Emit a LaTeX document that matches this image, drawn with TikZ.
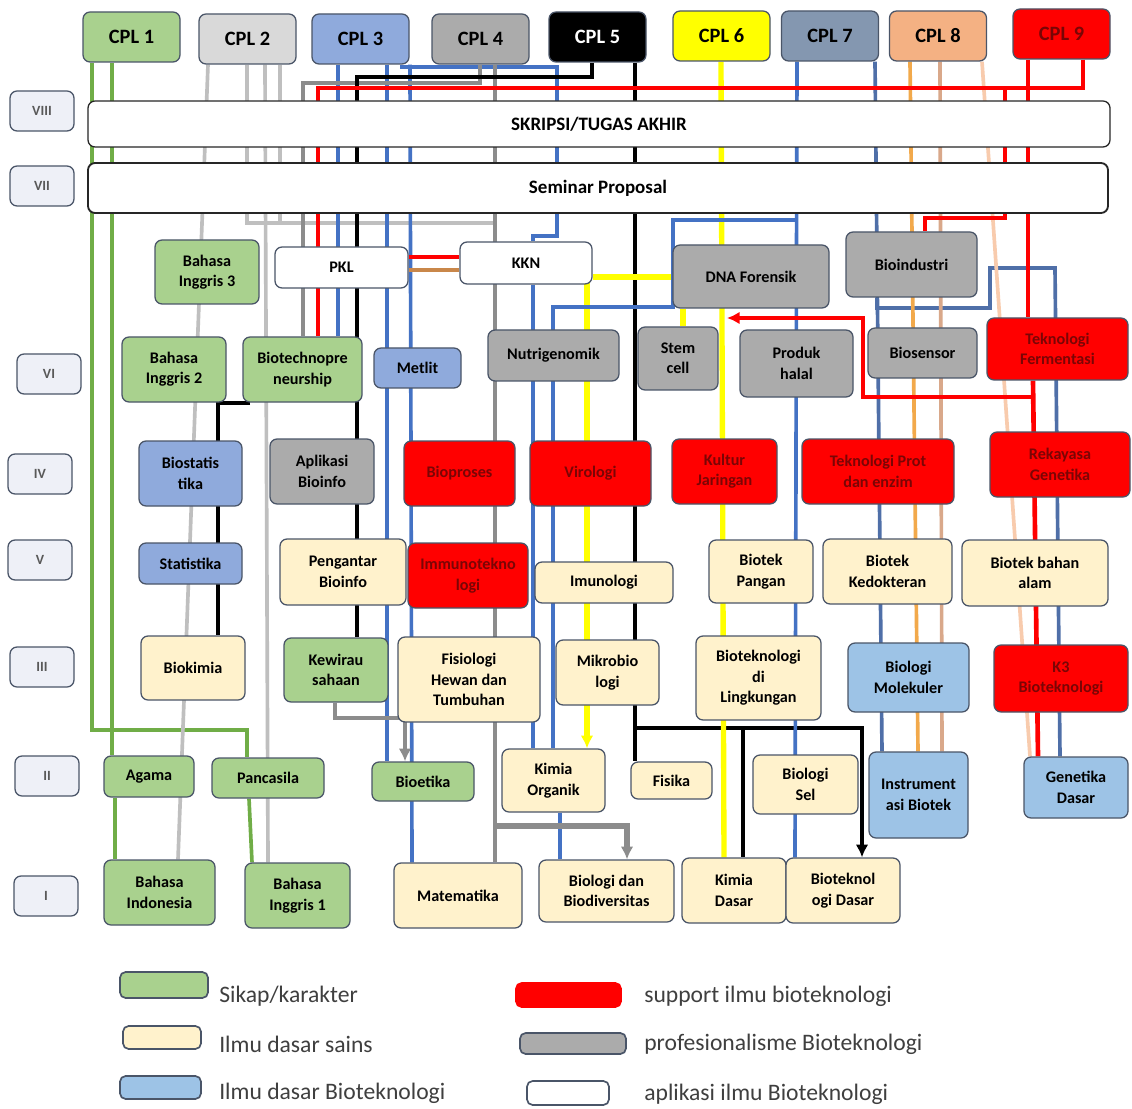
\documentclass[tikz,border=0pt]{standalone}
\usepackage{fontspec}
\setmainfont{Carlito}
\usetikzlibrary{arrows.meta, backgrounds}

\definecolor{sikapfill}{HTML}{A9D18E}
\definecolor{sainsfill}{HTML}{FFF2CC}
\definecolor{dasarfill}{HTML}{9DC3E6}
\definecolor{dasarfillb}{HTML}{8FAADC}
\definecolor{supportfill}{HTML}{FF0000}
\definecolor{supporttext}{HTML}{7A0505}
\definecolor{profesifill}{HTML}{ABABAB}
\definecolor{bordc}{HTML}{4A5568}
\definecolor{semfill}{HTML}{EEF0F7}
\definecolor{cpltwo}{HTML}{D9D9D9}
\definecolor{cplsix}{HTML}{FFFF00}
\definecolor{cplseven}{HTML}{8497B0}
\definecolor{cpleight}{HTML}{F4B183}
\definecolor{legtxt}{HTML}{3F3F3F}
\definecolor{lgreen}{HTML}{70AD47}
\definecolor{lgray}{HTML}{BFBFBF}
\definecolor{dgray}{HTML}{8C8C8C}
\definecolor{lblue}{HTML}{4472C4}
\definecolor{lslate}{HTML}{4F6FA8}
\definecolor{lorange}{HTML}{F2A94B}
\definecolor{lpeach}{HTML}{D9A88A}
\definecolor{llpeach}{HTML}{F8CBAD}
\definecolor{lbrown}{HTML}{C9874A}

\begin{document}
\begin{tikzpicture}[x=0.025cm, y=-0.025cm, >={Latex[length=9pt,width=9pt]},
  box/.style={draw=bordc, line width=0.9pt, rounded corners=5pt, align=center, inner sep=1pt,
    font=\bfseries\fontsize{11.5}{14.5}\selectfont},
  sz/.style 2 args={minimum width=#1*0.025cm, minimum height=#2*0.025cm},
  sikap/.style={box, fill=sikapfill},
  sains/.style={box, fill=sainsfill},
  dasar/.style={box, fill=dasarfill},
  dasarb/.style={box, fill=dasarfillb},
  support/.style={box, fill=supportfill, text=supporttext},
  profesi/.style={box, fill=profesifill},
  aplikasi/.style={box, fill=white},
  cplbox/.style={box, sz={97}{50}, font=\bfseries\fontsize{14.5}{17}\selectfont},
  bar/.style={box, fill=white, draw=black!85, font=\bfseries\fontsize{13.5}{16}\selectfont},
  sem/.style={box, fill=semfill, sz={64}{40}, text=black!65, font=\bfseries\fontsize{10}{12}\selectfont},
  legbox/.style={draw=bordc, line width=1.2pt, rounded corners=4pt},
  legtext/.style={anchor=west, inner sep=0pt, text=legtxt, font=\fontsize{16.8}{20}\selectfont},
  ln/.style={line width=2.6pt},
  lnk/.style={line width=3pt, black},
  lny/.style={line width=3.8pt, cplsix},
  lnr/.style={line width=3.3pt, supportfill}]
\useasboundingbox (0,0) rectangle (1132,1109);

\foreach \i/\x/\y/\fc/\tc in {1/131.5/37/sikapfill/black, 2/247.5/39/cpltwo/black,
    3/360.5/39/dasarfillb/black, 4/480.5/39/profesifill/black, 5/597.5/37/black/white,
    6/721.5/36/cplsix/black, 7/830/36/cplseven/black, 8/938/36/cpleight/black,
    9/1061.5/34/supportfill/supporttext}
  \node[cplbox, fill=\fc, text=\tc] (cpl\i) at (\x,\y) {CPL \i};

\foreach \s/\x/\y in {VIII/42/111, VII/42/186, VI/49/374, IV/40/474, V/40/560,
    III/42/667, II/47/776, I/46/896}
  \node[sem] (sem\s) at (\x,\y) {\s};

\node[bar, sz={1022}{46}] (skripsi) at (599,124) {SKRIPSI/TUGAS AKHIR};
\node[bar, sz={1020}{50}, line width=1.3pt] (sempro) at (598,188) {Seminar Proposal};

\node[sikap, sz={104}{64}] (bing3) at (207,272) {Bahasa\\Inggris 3};
\node[aplikasi, sz={133}{41}] (pkl) at (341.5,267.5) {PKL};
\node[aplikasi, sz={132}{42}] (kkn) at (526,263) {KKN};
\node[profesi, sz={156}{63}] (dna) at (751,276.5) {DNA Forensik};
\node[profesi, sz={131}{65}] (bioind) at (911.5,264.5) {Bioindustri};

\node[sikap, sz={104}{65}] (bing2) at (174,369.5) {Bahasa\\Inggris 2};
\node[sikap, sz={119}{65}] (btp) at (302.5,369.5) {Biotechnopre\\neurship};
\node[dasarb, sz={87}{40}] (metlit) at (417.5,368) {Metlit};
\node[profesi, sz={131}{51}] (nutri) at (553.5,355.5) {Nutrigenomik};
\node[profesi, sz={80}{63}] (stem) at (678,358.5) {Stem\\cell};
\node[profesi, sz={113}{67}] (halal) at (796.5,363.5) {Produk\\halal};
\node[profesi, sz={109}{50}] (biosensor) at (922.5,353) {Biosensor};
\node[support, sz={141}{62}] (fermen) at (1057.5,349) {Teknologi\\Fermentasi};

\node[dasarb, sz={103}{65}] (biostat) at (190.5,473.5) {Biostatis\\tika};
\node[profesi, sz={104}{65}] (apbio) at (322,471.5) {Aplikasi\\Bioinfo};
\node[support, sz={111}{65}] (bioproses) at (459.5,473.5) {Bioproses};
\node[support, sz={121}{65}] (virologi) at (590.5,473.5) {Virologi};
\node[support, sz={105}{65}] (kultur) at (724.5,471.5) {Kultur\\Jaringan};
\node[support, sz={152}{65}] (tekprot) at (878,471.5) {Teknologi Prot\\dan enzim};
\node[support, sz={140}{65}] (rekgen) at (1060,464.5) {Rekayasa\\Genetika};

\node[dasarb, sz={103}{41}] (stat) at (190.5,563.5) {Statistika};
\node[sains, sz={126}{66}] (pbio) at (343,572) {Pengantar\\Bioinfo};
\node[support, sz={120}{65}] (immtek) at (468,575.5) {Immunotekno\\logi};
\node[sains, sz={138}{41}] (imun) at (604,582.5) {Imunologi};
\node[sains, sz={104}{63}] (bpangan) at (761,571.5) {Biotek\\Pangan};
\node[sains, sz={129}{65}] (bkedok) at (887.5,571.5) {Biotek\\Kedokteran};
\node[sains, sz={146}{66}] (bbahan) at (1035,573) {Biotek bahan\\alam};

\node[sains, sz={104}{64}] (biokimia) at (193,668) {Biokimia};
\node[sikap, sz={104}{64}] (kewira) at (336,670) {Kewirau\\sahaan};
\node[sains, sz={142}{85}] (fisiol) at (469,679.5) {Fisiologi\\Hewan dan\\Tumbuhan};
\node[sains, sz={103}{65}] (mikro) at (607.5,672.5) {Mikrobio\\logi};
\node[sains, sz={125}{84}] (blingk) at (758.5,678) {Bioteknologi\\di\\Lingkungan};
\node[dasar, sz={121}{69}] (bmolek) at (908.5,677.5) {Biologi\\Molekuler};
\node[support, sz={134}{67}] (k3) at (1061,678.5) {K3\\Bioteknologi};

\node[sikap, sz={90}{41}] (agama) at (149,776.5) {Agama};
\node[sikap, sz={112}{40}] (pancasila) at (268,778) {Pancasila};
\node[sikap, sz={102}{39}] (bioetika) at (423,781.5) {Bioetika};
\node[sains, sz={103}{63}] (kimorg) at (553.5,780.5) {Kimia\\Organik};
\node[sains, sz={81}{37}] (fisika) at (671.5,780.5) {Fisika};
\node[sains, sz={105}{59}] (bsel) at (805.5,784.5) {Biologi\\Sel};
\node[dasar, sz={99}{86}] (instr) at (918.5,795) {Instrument\\asi Biotek};
\node[dasar, sz={104}{61}] (gendas) at (1076,787.5) {Genetika\\Dasar};

\node[sikap, sz={111}{65}] (bindo) at (159.5,892.5) {Bahasa\\Indonesia};
\node[sikap, sz={105}{65}] (bing1) at (297.5,895.5) {Bahasa\\Inggris 1};
\node[sains, sz={128}{65}] (matem) at (458,895.5) {Matematika};
\node[sains, sz={135}{62}] (bbiodiv) at (606.5,891) {Biologi dan\\Biodiversitas};
\node[sains, sz={104}{65}] (kimdas) at (734,890.5) {Kimia\\Dasar};
\node[sains, sz={114}{65}] (btdas) at (843,890.5) {Bioteknol\\ogi Dasar};

% legenda
\node[legbox, fill=sikapfill, sz={88}{26}] (lgsikap) at (164,985) {};
\node[legtext] (lgsikaptxt) at (219,996) {Sikap/karakter};
\node[legbox, fill=sainsfill, sz={78}{23}] (lgsains) at (162,1037.5) {};
\node[legtext] (lgsainstxt) at (219,1044) {Ilmu dasar sains};
\node[legbox, fill=dasarfill, sz={81}{23}] (lgdasar) at (160.5,1087.5) {};
\node[legtext] (lgdasartxt) at (219,1093) {Ilmu dasar Bioteknologi};
\node[legbox, fill=supportfill, draw=supportfill, sz={105}{24}] (lgsupport) at (568.5,995) {};
\node[legtext] (lgsupporttxt) at (644,996) {support ilmu bioteknologi};
\node[legbox, fill=profesifill, sz={106}{21}] (lgprofesi) at (573,1043.5) {};
\node[legtext] (lgprofesitxt) at (644,1044) {profesionalisme Bioteknologi};
\node[legbox, fill=white, sz={82}{24}] (lgaplikasi) at (568,1093) {};
\node[legtext] (lgaplikasitxt) at (644,1094) {aplikasi ilmu Bioteknologi};

\begin{pgfonlayer}{background}
  \fill[white] (0,0) rectangle (1132,1109);
  % CPL 1
  \draw[ln, lgreen] (cpl1.south -| 92,0) -- (92,730) -| (pancasila.north -| 247,0);
  \draw[ln, lgreen] (cpl1.south -| 112,0) -- (agama.north -| 112,0);
  \draw[ln, lgreen] (agama.south -| 115,0) -- (bindo.north -| 115,0);
  \draw[ln, lgreen] (pancasila.south -| 249,0) -- (bing1.north -| 252,0);
  % CPL 2
  \draw[ln, lgray] (cpl2.south -| 208,0) -- (bindo.north -| 178,0);
  \draw[ln, lgray] (cpl2.south -| 265,0) -- (bing1.north -| 268,0);
  \draw[ln, lgray] (cpl2.south -| 247,0) |- (495,223);
  \draw[ln, lgray] (cpl2.south -| 280,0) -- (280,223);
  % CPL 3
  \draw[ln, lblue] (cpl3.south -| 338,0) -- (btp.north -| 338,0);
  \draw[ln, lblue] (cpl3.south -| 387,0) -- (bioetika.north -| 387,0);
  \draw[ln, lblue] (cpl3.south -| 410,0) -- (matem.north -| 412,0);
  \draw[ln, lblue] (cpl3.south -| 402,0) |- (557,67) -- (557,236) -| (kkn.north -| 533,0);
  \draw[ln, lblue] (kkn.south -| 533,0) -- (kimorg.north -| 533,0);
  \draw[ln, lblue] (kimorg.south -| 560,0) -- (bbiodiv.north -| 560,0);
  % CPL 4
  \draw[ln, dgray] (cpl4.south -| 480,0) |- (303,83) -- (btp.north -| 303,0);
  \draw[ln, dgray] (cpl4.south -| 495,0) -- (matem.north -| 495,0);
  \draw[ln, dgray, line width=3.6pt, ->] (495,826) -| (bbiodiv.north -| 627,0);
  \draw[ln, dgray, ->] (kewira.south -| 335,0) |- (405,718) -- (bioetika.north -| 405,0);
  % CPL 5
  \draw[lnk] (cpl5.south -| 592,0) |- (357,77) -- (kewira.north -| 357,0);
  \draw[lnk] (btp.south -| 250,0) -- (btp.south -| 218,0) -- (biokimia.north -| 218,0);
  \draw[lnk] (cpl5.south -| 635,0) -- (fisika.north -| 635,0);
  \draw[lnk, ->] (635,728) -| (btdas.north -| 862,0);
  \draw[lnk] (743,728) -- (kimdas.north -| 743,0);
  % CPL 6
  \draw[lny] (cpl6.south -| 721,0) -- (kimdas.north -| 724,0);
  \draw[lny] (kkn.east |- 0,277) -- (dna.west |- 0,277);
  \draw[lny, ->] (587,277) -- (kimorg.north -| 587,0);
  \draw[lny] (dna.south -| 683,0) -- (stem.north -| 683,0);
  % CPL 7
  \draw[ln, lblue] (cpl7.south -| 797,0) -- (btdas.north -| 795,0);
  \draw[ln, lblue] (797,220) -- (673,220) -- (673,307) -- (553,307) -- (kimorg.north -| 553,0);
  \draw[ln, lslate] (cpl7.south -| 875,0) -- (instr.north -| 882,0);
  \draw[ln, lslate] (bioind.south -| 877,0) |- (990,308) |- (1055,268) -- (gendas.north -| 1060,0);
  % CPL 8
  \draw[ln, lorange] (cpl8.south -| 910,0) -- (instr.north -| 918,0);
  \draw[ln, lpeach] (cpl8.south -| 940,0) -- (instr.north -| 942,0);
  \draw[ln, llpeach] (cpl8.south -| 982,0) -- (gendas.north -| 1030,0);
  % CPL 9
  \draw[lnr] (cpl9.south -| 1083,0) |- (318,88) -- (btp.north -| 318,0);
  \draw[lnr] (cpl9.south -| 1028,0) -- (fermen.north -| 1028,0);
  \draw[lnr] (1005,88) -- (1005,218) -| (bioind.north -| 925,0);
  \draw[lnr] (fermen.south -| 1033,0) -- (gendas.north -| 1038,0);
  \draw[lnr, ->] (1033,397) -- (863,397) |- (727,318);
  \draw[lnr] (pkl.east |- 0,257) -- (kkn.west |- 0,257);
  \draw[ln, lbrown] (pkl.east |- 0,270) -- (kkn.west |- 0,270);
\end{pgfonlayer}
\end{tikzpicture}
\end{document}
